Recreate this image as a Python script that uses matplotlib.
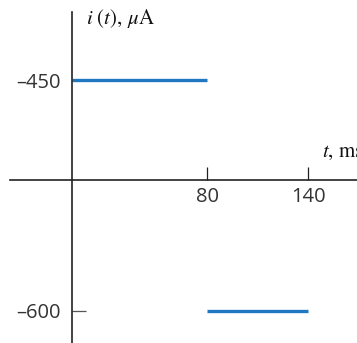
import matplotlib
matplotlib.use('Agg')
import matplotlib.pyplot as plt

# Input data (piecewise constant current)
t_start = [0, 80]
t_end = [80, 140]
current = [-450, -600]
xtick_vals = [80, 140]
ytick_vals = [-450, -600]
ytick_labels = ['\u2013450', '\u2013600']

plt.rcParams['mathtext.fontset'] = 'stix'

fig = plt.figure(figsize=(3.57, 3.43), dpi=100)
ax = fig.add_axes([0, 0, 1, 1])

for a, b, v in zip(t_start, t_end, current):
    ax.plot([a, b], [v, v], color='#1f78c1', linewidth=2.4, solid_capstyle='butt')

ax.set_xlim(-42.7, 168.9)
ax.set_ylim(-620.8, -398.0)

# axes drawn as a schematic cross
for s in ['top', 'right']:
    ax.spines[s].set_visible(False)
ax.spines['left'].set_position(('data', 0))
ax.spines['left'].set_bounds(-620.8, -405.8)
ax.spines['bottom'].set_position(('data', -514.9))
ax.spines['bottom'].set_bounds(-37, 168.9)
for s in ['left', 'bottom']:
    ax.spines[s].set_color('#222222')
    ax.spines[s].set_linewidth(1.2)

ax.set_xticks(xtick_vals)
ax.set_xticklabels([str(v) for v in xtick_vals])
ax.set_yticks(ytick_vals)
ax.set_yticklabels(ytick_labels)
ax.tick_params(axis='x', direction='in', length=9.5, width=0.9, color='#222222',
               pad=5, labelsize=14.5, labelcolor='#333333')
ax.tick_params(axis='y', direction='in', length=10, width=0.9, color='#555555',
               pad=8, labelsize=14.5, labelcolor='#333333')
for lab in ax.get_xticklabels() + ax.get_yticklabels():
    lab.set_family('Open Sans')

ax.text(8.3, -413.6, r'$i\ (t),\,\mu\mathrm{A}$', fontsize=15, color='#111111',
        ha='left', va='baseline')
ax.text(148.1, -500, r'$t,\,\mathrm{ms}$', fontsize=15, color='#111111',
        ha='left', va='baseline')

fig.savefig('out.png', dpi=100)
